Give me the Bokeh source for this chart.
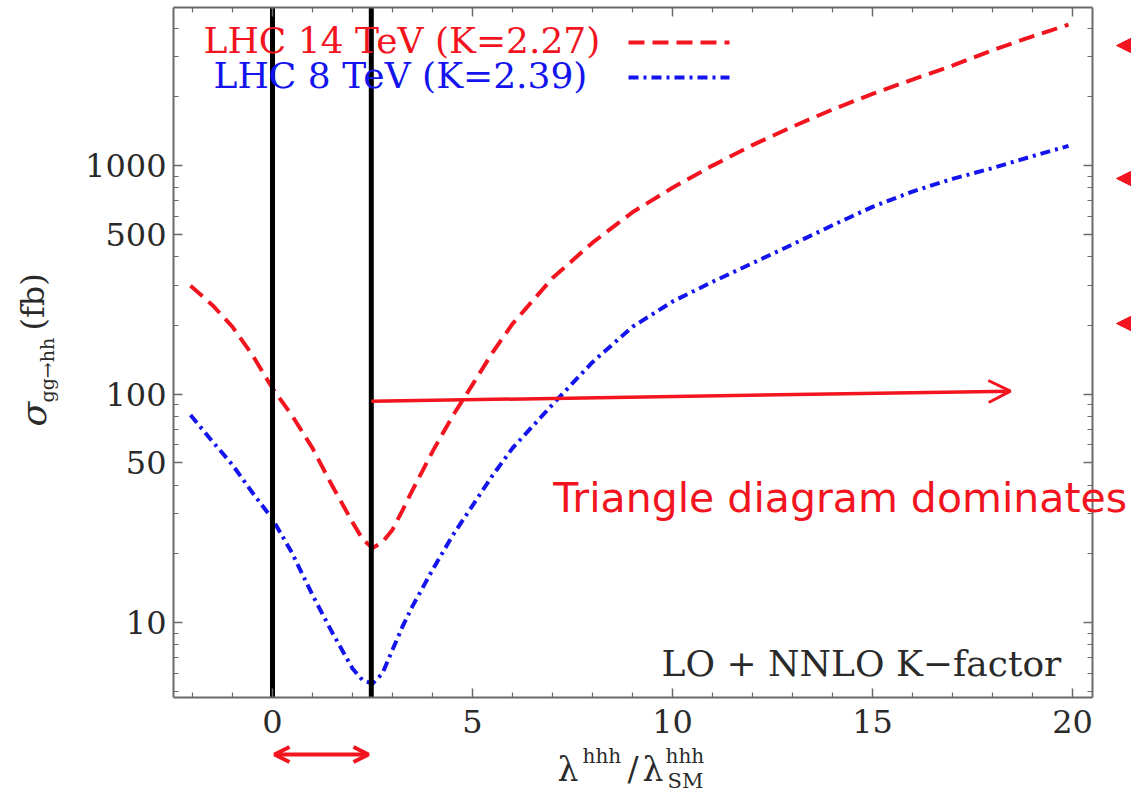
import math
from bokeh.plotting import figure
from bokeh.models import (Range1d, LinearAxis, LogAxis, FixedTicker, CustomJSTickFormatter,
                          PrintfTickFormatter, Label, Arrow, OpenHead, NormalHead,
                          ColumnDataSource)
from bokeh.embed import file_html
from bokeh.resources import INLINE

# ---------------- data ----------------
lam = [-2.05, -1.5, -1.0, -0.5, 0.0, 0.5, 1.0, 1.5, 2.0, 2.25, 2.5, 2.75, 3.0, 3.25, 3.5, 4.0, 4.5,
       5.0, 5.5, 6.0, 7.0, 8.0, 9.0, 10.0, 11.0, 12.0, 13.0, 14.0, 15.0, 16.0, 17.0, 18.0, 19.0, 19.9]
sigma_14tev = [298, 245, 197, 148, 106, 80, 58, 39.5, 27.5, 23.2, 21.2, 22.5, 25.5, 31, 38, 56, 80,
               110, 152, 203, 322, 460, 625, 800, 1000, 1230, 1480, 1760, 2060, 2380, 2740, 3200, 3680, 4140]
sigma_8tev = [81, 62, 49, 37, 28.4, 20, 13.2, 9.0, 6.3, 5.6, 5.4, 6.0, 7.6, 9.6, 11.8, 17, 24,
              32.5, 44, 58, 90, 138, 197, 254, 310, 374, 452, 548, 660, 770, 875, 975, 1100, 1220]

x_major_ticks = [0, 5, 10, 15, 20]
x_minor_ticks = [-2, -1, 1, 2, 3, 4, 6, 7, 8, 9, 11, 12, 13, 14, 16, 17, 18, 19]
y_major_ticks = [10, 50, 100, 500, 1000]
y_minor_ticks = [5, 6, 7, 8, 9, 20, 30, 40, 60, 70, 80, 90, 200, 300, 400, 600, 700, 800, 900,
                 2000, 3000, 4000]
x_lim = [-2.475, 20.5]
y_lim = [4.70, 4920]
vlines = [0.0, 2.47]
legend_labels = ["LHC 14 TeV (K=2.27)", "LHC 8 TeV (K=2.39)"]
arrow_lam = [2.47, 18.45]
arrow_sigma = [93, 103]
triangle_text = "Triangle diagram dominates"
triangle_pos = (7.02, 35.0)
note_text = "LO + NNLO K\u2212factor"
note_pos = (19.72, 6.6)

RED = "#f2141e"
BLUE = "#1414ee"
FRAME = "#6a6a6a"
INK = "#2a2a2a"
SERIF = "DejaVu Serif"

# ---------------- geometry (pixels) ----------------
W, H = 1131, 791
F_LEFT, F_RIGHT, F_TOP, F_BOTTOM = 173, 1092, 7, 697   # plot box inside the canvas
ppu = (F_RIGHT - F_LEFT) / (x_lim[1] - x_lim[0])
ppd = (F_BOTTOM - F_TOP) / (math.log10(y_lim[1]) - math.log10(y_lim[0]))
x_range = Range1d(x_lim[0] - F_LEFT / ppu, x_lim[1] + (W - F_RIGHT) / ppu)
y_range = Range1d(10 ** (math.log10(y_lim[0]) - (H - F_BOTTOM) / ppd),
                  10 ** (math.log10(y_lim[1]) + F_TOP / ppd))


def scr(px, py):
    """page pixel (from top-left) -> screen units (from bottom-left)"""
    return px, H - py


p = figure(width=W, height=H, output_backend="svg", toolbar_location=None,
           x_range=x_range, y_range=y_range, y_axis_type="log",
           min_border=0, min_border_left=0, min_border_right=0,
           min_border_top=0, min_border_bottom=0)
p.outline_line_color = None
p.background_fill_color = "white"
p.border_fill_color = "white"
p.xgrid.visible = False
p.ygrid.visible = False

xt = FixedTicker(ticks=x_major_ticks, minor_ticks=x_minor_ticks)
yt = FixedTicker(ticks=y_major_ticks, minor_ticks=y_minor_ticks)
blank = CustomJSTickFormatter(code="return ''")


def style_axis(ax, show_labels, standoff=8):
    ax.axis_line_color = FRAME
    ax.axis_line_width = 2
    ax.major_tick_line_color = FRAME
    ax.minor_tick_line_color = FRAME
    ax.major_tick_line_width = 1.5
    ax.minor_tick_line_width = 1.2
    ax.major_tick_in = 9
    ax.major_tick_out = 0
    ax.minor_tick_in = 5
    ax.minor_tick_out = 0
    ax.axis_label = None
    if show_labels:
        ax.major_label_text_font = SERIF
        ax.major_label_text_font_size = "32px"
        ax.major_label_text_color = INK
        ax.major_label_standoff = standoff
    else:
        ax.formatter = blank
        ax.major_label_text_font_size = "1px"
        ax.major_label_standoff = 0


xa = p.xaxis[0]
xa.ticker = xt
xa.fixed_location = y_lim[0]
xa.bounds = tuple(x_lim)
style_axis(xa, True, 12)

ya = p.yaxis[0]
ya.ticker = yt
ya.formatter = PrintfTickFormatter(format="%d")
ya.fixed_location = x_lim[0]
ya.bounds = tuple(y_lim)
style_axis(ya, True, 7)

top = LinearAxis(ticker=xt, fixed_location=y_lim[1], bounds=tuple(x_lim))
style_axis(top, False)
p.add_layout(top, "above")
right = LogAxis(ticker=yt, fixed_location=x_lim[1], bounds=tuple(y_lim))
style_axis(right, False)
p.add_layout(right, "right")

# ---------------- curves ----------------
src = ColumnDataSource(dict(lam=lam, s14=sigma_14tev, s8=sigma_8tev))
p.line("lam", "s14", source=src, line_color=RED, line_width=4, line_dash="16 8")
p.line("lam", "s8", source=src, line_color=BLUE, line_width=4, line_dash="10 5 3 5")

# vertical black lines spanning the plot box
p.segment(x0=vlines, y0=[y_lim[0]] * len(vlines), x1=vlines, y1=[y_lim[1]] * len(vlines),
          line_color="black", line_width=5)

# horizontal arrow
p.add_layout(Arrow(end=OpenHead(size=22, line_color=RED, line_width=3),
                   x_start=arrow_lam[0], y_start=arrow_sigma[0],
                   x_end=arrow_lam[1], y_end=arrow_sigma[1],
                   line_color=RED, line_width=3.5))

# texts inside plot (y = vertical middle of the text)
p.add_layout(Label(x=triangle_pos[0], y=triangle_pos[1], text=triangle_text,
                   text_font="DejaVu Sans", text_font_size="41px", text_color=RED,
                   text_baseline="middle", text_align="left"))
p.add_layout(Label(x=note_pos[0], y=note_pos[1], text=note_text,
                   text_font=SERIF, text_font_size="36px", text_color=INK,
                   text_baseline="middle", text_align="right"))

# legend (text then line sample)
leg_colors = [RED, BLUE]
leg_dash = ["16 8", "10 5 3 5"]
leg_text_px = [(203, 40), (213, 75)]
leg_line_py = [42, 77]
for lab, col, dash, (tx, ty), ly in zip(legend_labels, leg_colors, leg_dash, leg_text_px, leg_line_py):
    sx, sy = scr(tx, ty)
    p.add_layout(Label(x=sx, y=sy, x_units="screen", y_units="screen", text=lab,
                       text_font=SERIF, text_font_size="36px", text_color=col,
                       text_baseline="middle"))
    x0, y0 = scr(628, ly)
    x1, _ = scr(729, ly)
    p.add_layout(Arrow(start=None, end=None, x_start=x0, y_start=y0, x_end=x1, y_end=y0,
                       start_units="screen", end_units="screen",
                       line_color=col, line_width=4, line_dash=dash))

# y axis label (rotated); x = vertical middle of the rotated text
ylab = [("\u03c3", 33, 426, "36px", "italic"),
        ("gg\u2192hh", 46, 402, "19px", "normal"),
        ("(fb)", 32, 330, "32px", "normal")]
for t, px, py, fs, st in ylab:
    sx, sy = scr(px, py)
    p.add_layout(Label(x=sx, y=sy, x_units="screen", y_units="screen", text=t,
                       angle=math.pi / 2, text_font=SERIF, text_font_size=fs,
                       text_font_style=st, text_color=INK,
                       text_baseline="middle", text_align="left"))

# x axis label
xlab = [("\u03bb", 557, 769, "33px"), ("hhh", 582, 755, "20px"), ("/", 627, 769, "33px"),
        ("\u03bb", 642, 769, "33px"), ("hhh", 665, 755, "20px"), ("SM", 667, 780, "21px")]
for t, px, py, fs in xlab:
    sx, sy = scr(px, py)
    p.add_layout(Label(x=sx, y=sy, x_units="screen", y_units="screen", text=t,
                       text_font=SERIF, text_font_size=fs, text_color=INK,
                       text_baseline="middle", text_align="left"))

# double arrow below the axis
ax0, ay0 = scr(274, 754)
ax1, _ = scr(368, 754)
p.add_layout(Arrow(start=OpenHead(size=15, line_color=RED, line_width=4),
                   end=OpenHead(size=15, line_color=RED, line_width=4),
                   x_start=ax0, y_start=ay0, x_end=ax1, y_end=ay0,
                   start_units="screen", end_units="screen",
                   line_color=RED, line_width=4))

# partially visible arrowheads at the right edge
for py in [45, 178, 323]:
    tx, ty = scr(1116, py)
    sx0, _ = scr(1200, py)
    p.add_layout(Arrow(end=NormalHead(size=30, fill_color=RED, line_color=RED),
                       x_start=sx0, y_start=ty, x_end=tx, y_end=ty,
                       start_units="screen", end_units="screen",
                       line_color=RED, line_width=4))

open("out.html", "w").write(file_html(p, INLINE))
